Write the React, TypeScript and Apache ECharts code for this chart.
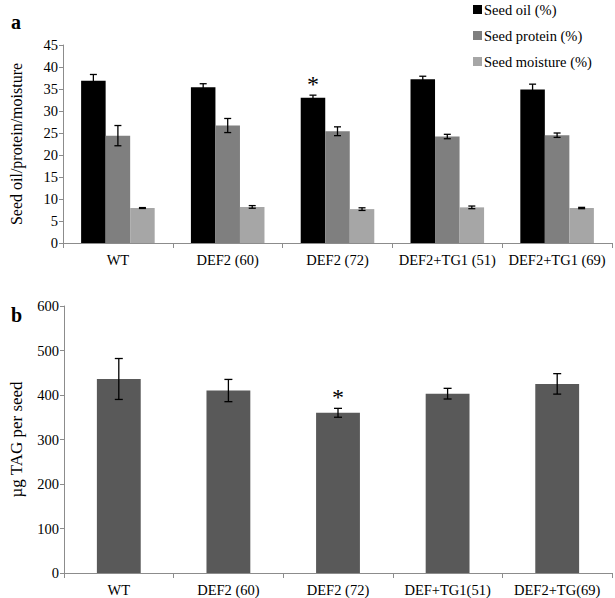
import React, { useEffect, useRef } from "react";
import * as echarts from "echarts";

const categoriesA = ["WT", "DEF2 (60)", "DEF2 (72)", "DEF2+TG1 (51)", "DEF2+TG1 (69)"];
const oil = [36.9, 35.4, 33.0, 37.2, 34.9];
const oilErr = [1.4, 0.8, 0.6, 0.7, 1.2];
const protein = [24.4, 26.7, 25.4, 24.2, 24.5];
const proteinErr = [2.3, 1.6, 1.0, 0.5, 0.5];
const moisture = [7.95, 8.2, 7.7, 8.1, 7.95];
const moistureErr = [0.1, 0.3, 0.3, 0.3, 0.15];
const significantA = [false, false, true, false, false];

const categoriesB = ["WT", "DEF2 (60)", "DEF2 (72)", "DEF+TG1(51)", "DEF2+TG(69)"];
const tag = [436, 410, 360, 403, 425];
const tagErr = [46, 25, 10, 12, 23];
const significantB = [false, false, true, false, false];

const seriesNamesA = ["Seed oil (%)", "Seed protein (%)", "Seed moisture (%)"];
const yTicksA = { min: 0, max: 45, interval: 5 };
const yTicksB = { min: 0, max: 600, interval: 100 };

const FONT = "Liberation Serif";
const AXIS_COLOR = "#8c8c8c";
const colorsA = ["#000000", "#7f7f7f", "#a6a6a6"];
const colorB = "#595959";

function errorData(vals: number[], errs: number[], sig: boolean[]) {
  return vals.map((v, i) => [i, v - errs[i], v + errs[i], sig[i] ? 1 : 0]);
}

function makeErrorRender(slot: number, nSlots: number, gapFrac: number, cap: number) {
  return (params: any, api: any) => {
    const idx = api.value(0);
    const lowP = api.coord([idx, api.value(1)]);
    const highP = api.coord([idx, api.value(2)]);
    const band = api.size([1, 0])[0];
    const barW = (band * (1 - gapFrac)) / nSlots;
    const offset = (slot - (nSlots - 1) / 2) * barW;
    const x = lowP[0] + offset;
    const style = { stroke: "#000", lineWidth: 1.3 };
    const children: any[] = [
      { type: "line", shape: { x1: x, y1: highP[1], x2: x, y2: lowP[1] }, style },
      { type: "line", shape: { x1: x - cap, y1: highP[1], x2: x + cap, y2: highP[1] }, style },
      { type: "line", shape: { x1: x - cap, y1: lowP[1], x2: x + cap, y2: lowP[1] }, style },
    ];
    if (api.value(3) === 1) {
      children.push({
        type: "text",
        style: {
          text: "*",
          x: x,
          y: highP[1] - 11,
          align: "center",
          verticalAlign: "middle",
          fontSize: 24,
          fontFamily: FONT,
          fill: "#000",
        },
      });
    }
    return { type: "group", children };
  };
}

export default function App() {
  const ref = useRef<HTMLDivElement>(null);
  useEffect(() => {
    if (!ref.current) return;
    const chart = echarts.init(ref.current, null, { renderer: "svg" });
    const xAxisCommon = {
      type: "category",
      boundaryGap: true,
      axisLine: { show: true, lineStyle: { color: AXIS_COLOR, width: 1 } },
      axisTick: { show: true, length: 5, lineStyle: { color: AXIS_COLOR } },
      axisLabel: { color: "#000", fontFamily: FONT, fontSize: 14.5, margin: 9, interval: 0 },
      splitLine: { show: false },
    };
    const yAxisCommon = {
      type: "value",
      axisLine: { show: true, lineStyle: { color: AXIS_COLOR, width: 1 } },
      axisTick: { show: true, length: 4, lineStyle: { color: AXIS_COLOR } },
      axisLabel: { color: "#000", fontFamily: FONT, fontSize: 14.5, margin: 5 },
      splitLine: { show: false },
      nameLocation: "middle",
      nameRotate: 90,
    };
    const gapA = 0.33;
    const option: any = {
      animation: false,
      backgroundColor: "#fff",
      title: [
        { text: "a", left: 6, top: 7, textStyle: { fontFamily: FONT, fontSize: 20, fontWeight: "bold", color: "#000" } },
        { text: "b", left: 6, top: 300, textStyle: { fontFamily: FONT, fontSize: 20, fontWeight: "bold", color: "#000" } },
      ],
      legend: {
        data: seriesNamesA,
        orient: "vertical",
        left: 468,
        top: -3,
        itemWidth: 9,
        itemHeight: 9,
        itemGap: 11,
        icon: "rect",
        textStyle: { fontFamily: FONT, fontSize: 14.5, color: "#000", padding: [0, 0, 0, -3] },
      },
      grid: [
        { left: 61, top: 45, right: 3, height: 198 },
        { left: 61, top: 306, right: 3, height: 267 },
      ],
      xAxis: [
        { ...xAxisCommon, gridIndex: 0, data: categoriesA },
        { ...xAxisCommon, gridIndex: 1, data: categoriesB },
      ],
      yAxis: [
        {
          ...yAxisCommon, gridIndex: 0, ...yTicksA, name: "Seed oil/protein/moisture", nameGap: 39,
          nameTextStyle: { color: "#000", fontFamily: FONT, fontSize: 16 },
        },
        {
          ...yAxisCommon, gridIndex: 1, ...yTicksB, name: "µg TAG per seed", nameGap: 39,
          nameTextStyle: { color: "#000", fontFamily: FONT, fontSize: 17 },
        },
      ],
      series: [
        {
          name: seriesNamesA[0], type: "bar", xAxisIndex: 0, yAxisIndex: 0, data: oil,
          barGap: "0%", barCategoryGap: "33%", itemStyle: { color: colorsA[0] },
        },
        {
          name: seriesNamesA[1], type: "bar", xAxisIndex: 0, yAxisIndex: 0, data: protein,
          barGap: "0%", barCategoryGap: "33%", itemStyle: { color: colorsA[1] },
        },
        {
          name: seriesNamesA[2], type: "bar", xAxisIndex: 0, yAxisIndex: 0, data: moisture,
          barGap: "0%", barCategoryGap: "33%", itemStyle: { color: colorsA[2] },
        },
        {
          name: "TAG", type: "bar", xAxisIndex: 1, yAxisIndex: 1, data: tag,
          barCategoryGap: "60%", itemStyle: { color: colorB },
        },
        {
          name: "errOil", type: "custom", xAxisIndex: 0, yAxisIndex: 0, z: 10,
          renderItem: makeErrorRender(0, 3, gapA, 3.5),
          data: errorData(oil, oilErr, significantA),
        },
        {
          name: "errProtein", type: "custom", xAxisIndex: 0, yAxisIndex: 0, z: 10,
          renderItem: makeErrorRender(1, 3, gapA, 3.5),
          data: errorData(protein, proteinErr, [false, false, false, false, false]),
        },
        {
          name: "errMoisture", type: "custom", xAxisIndex: 0, yAxisIndex: 0, z: 10,
          renderItem: makeErrorRender(2, 3, gapA, 3.5),
          data: errorData(moisture, moistureErr, [false, false, false, false, false]),
        },
        {
          name: "errTag", type: "custom", xAxisIndex: 1, yAxisIndex: 1, z: 10,
          renderItem: makeErrorRender(0, 1, 0.6, 4),
          data: errorData(tag, tagErr, significantB),
        },
      ],
    };
    chart.setOption(option);
    return () => chart.dispose();
  }, []);
  return (
    <div
      ref={ref}
      style={{ position: "fixed", left: 0, top: 0, width: 615, height: 598, background: "#fff" }}
    />
  );
}
